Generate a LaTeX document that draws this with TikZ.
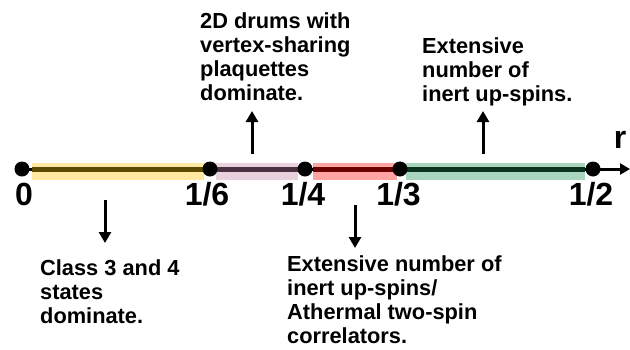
\documentclass[tikz,border=0pt]{standalone}
\usepackage{fontspec}
\setmainfont{Liberation Sans}
\usetikzlibrary{arrows.meta}
\definecolor{bandY}{HTML}{FFE8A0}
\definecolor{lineY}{HTML}{5C4A00}
\definecolor{bandP}{HTML}{E8D0DC}
\definecolor{lineP}{HTML}{4A3040}
\definecolor{bandR}{HTML}{FFA3A3}
\definecolor{lineR}{HTML}{6A0000}
\definecolor{bandG}{HTML}{A9D5BE}
\definecolor{lineG}{HTML}{0B3320}
\begin{document}
\begin{tikzpicture}[x=1pt,y=-1pt,
  dot/.style={circle,fill=black,inner sep=0pt,minimum size=15pt},
  tick/.style={font=\fontsize{32}{32}\selectfont\bfseries,anchor=base,inner sep=0pt},
  note/.style={font=\fontsize{21.8}{24}\selectfont\bfseries,align=left,anchor=base west,inner sep=0pt},
  pointer/.style={line width=3pt,-{Triangle[length=11pt,width=12pt]}},
  band/.style={line width=17pt},
  core/.style={line width=5pt}]
\useasboundingbox (0,0) rectangle (630,349);

% the axis
\coordinate (end) at (630,169);
\draw[line width=3pt,-{Triangle[length=10pt,width=11pt]}] (22,169) -- (end);

% shaded intervals with their darker core lines
\draw[band,bandY] (32,171.5) -- (204,171.5);
\draw[core,lineY] (32,169) -- (204,169);
\draw[band,bandP] (216,171.5) -- (298,171.5);
\draw[core,lineP] (216,169) -- (298,169);
\draw[band,bandR] (313,171.5) -- (397,171.5);
\draw[core,lineR] (313,169) -- (397,169);
\draw[band,bandG] (406,171.5) -- (585,171.5);
\draw[core,lineG] (406,169) -- (585,169);

% points on the axis
\node[dot] (p0) at (22,169) {};
\node[dot] (p16) at (210,169) {};
\node[dot] (p14) at (305,169) {};
\node[dot] (p13) at (400,169) {};
\node[dot] (p12) at (593,169) {};

% tick labels
\node[tick] (l0) at (24,205) {0};
\node[tick] (l16) at (207,205) {1/6};
\node[tick] (l14) at (303,205) {1/4};
\node[tick] (l13) at (398.5,205) {1/3};
\node[tick] (l12) at (591,205) {1/2};
\node[tick] (r) at (620,148) {r};

% region descriptions (anchored at the baseline of the last line)
\node[note] (nA) at (40,323) {Class 3 and 4\\states\\dominate.};
\node[note] (nB) at (200,100) {2D drums with\\vertex-sharing\\plaquettes\\dominate.};
\node[note] (nC) at (287,343) {Extensive number of\\inert up-spins/\\Athermal two-spin\\correlators.};
\node[note] (nD) at (422,101) {Extensive\\number of\\inert up-spins.};

% pointers
\coordinate (aA0) at (105,200); \coordinate (aA1) at (105,243);
\coordinate (aB0) at (252,154); \coordinate (aB1) at (252,111);
\coordinate (aC0) at (355,205); \coordinate (aC1) at (355,248);
\coordinate (aD0) at (483,154); \coordinate (aD1) at (483,111);
\draw[pointer] (aA0) -- (aA1);
\draw[pointer] (aB0) -- (aB1);
\draw[pointer] (aC0) -- (aC1);
\draw[pointer] (aD0) -- (aD1);
\end{tikzpicture}
\end{document}
